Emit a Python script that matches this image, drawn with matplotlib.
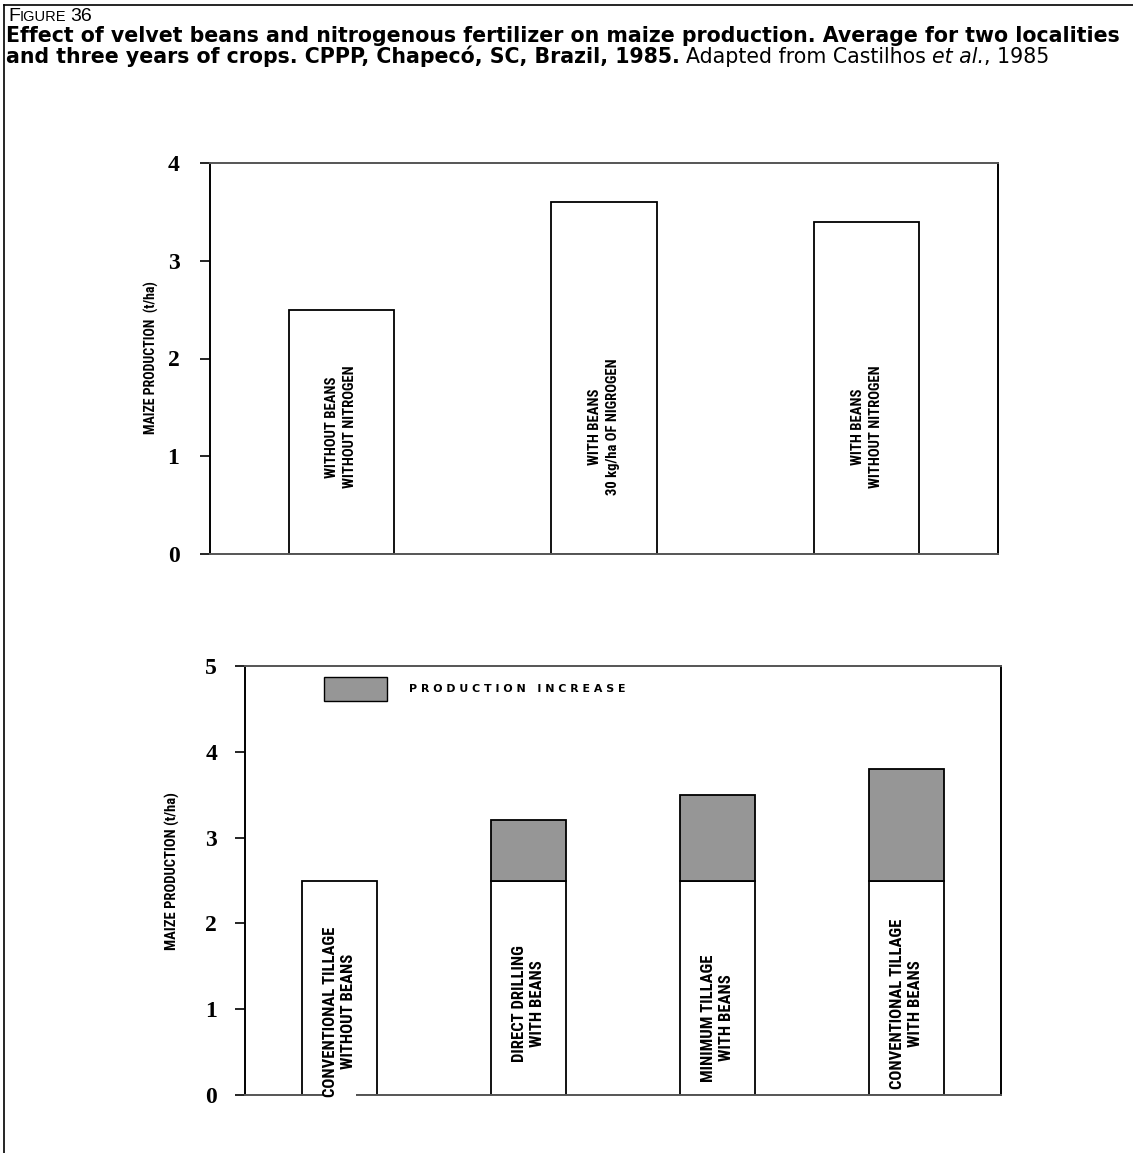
import matplotlib
matplotlib.use("Agg")
import matplotlib.pyplot as plt
from matplotlib.lines import Line2D
from matplotlib.patches import Rectangle
from matplotlib import font_manager
from matplotlib.font_manager import FontProperties

# data
top_labels = ["WITHOUT BEANS\nWITHOUT NITROGEN",
              "WITH BEANS\n30 kg/ha OF NIGROGEN",
              "WITH BEANS\nWITHOUT NITROGEN"]
top_values = [2.5, 3.6, 3.4]

bottom_labels = ["CONVENTIONAL TILLAGE\nWITHOUT BEANS",
                 "DIRECT DRILLING\nWITH BEANS",
                 "MINIMUM TILLAGE\nWITH BEANS",
                 "CONVENTIONAL TILLAGE\nWITH BEANS"]
bottom_base = [2.5, 2.5, 2.5, 2.5]
bottom_increase = [0.0, 0.7, 1.0, 1.3]
legend_label = "P R O D U C T I O N   I N C R E A S E"

GREY = "#969696"
SERIF = "Liberation Serif"


def narrow_bold():
    """Look for an installed condensed/narrow bold sans, else fall back to Liberation Sans."""
    wanted = ["Liberation Sans Narrow", "Arial Narrow", "Roboto Condensed",
              "Open Sans Condensed", "DejaVu Sans Condensed"]
    hits = []
    for f in font_manager.fontManager.ttflist:
        w = f.weight if isinstance(f.weight, int) else (700 if "bold" in str(f.weight) else 400)
        narrow = ("Narrow" in f.name or "Condensed" in f.name
                  or "ondensed" in str(f.stretch) or "Condensed" in f.fname)
        if narrow and w >= 600 and f.style == "normal":
            rank = next((i for i, n in enumerate(wanted) if n.split()[0] in f.name), 99)
            hits.append((rank, f.fname))
    if hits:
        hits.sort()
        return FontProperties(fname=hits[0][1]), True
    return FontProperties(family="Liberation Sans", weight="bold"), False


NARROW, is_narrow = narrow_bold()
scale = 1.0 if is_narrow else 0.85
top_size = 10.5 * scale
bot_size = 12 * scale

W, H = 1133, 1153
fig = plt.figure(figsize=(W / 100, H / 100), dpi=100)
renderer = fig.canvas.get_renderer()


def fx(px):
    return px / W


def fy(py):
    return 1 - py / H


def right_px(t):
    return t.get_window_extent(renderer).x1


# page frame (top and left only)
fig.add_artist(Line2D([fx(4), 1], [fy(5), fy(5)], color="black", lw=1.2))
fig.add_artist(Line2D([fx(4), fx(4)], [fy(5), 0], color="black", lw=1.2))

# caption: small-caps "FIGURE 36"
t = fig.text(fx(8), fy(21), "F", fontsize=14, family="Liberation Sans", va="baseline")
t = fig.text(right_px(t) / W, fy(21), "IGURE", fontsize=10.5, family="Liberation Sans",
             va="baseline")
fig.text(right_px(t) / W + fx(4), fy(21), "36", fontsize=14, family="Liberation Sans",
         va="baseline")

line1 = "Effect of velvet beans and nitrogenous fertilizer on maize production. Average for two localities"
line2 = "and three years of crops. CPPP, Chapecó, SC, Brazil, 1985."
t1 = fig.text(fx(6), fy(42), line1, fontsize=14, family="DejaVu Sans", weight="bold",
              va="baseline")
size = 14 * (1124 - 6) / (right_px(t1) - 6)
t1.set_fontsize(size)
t = fig.text(fx(6), fy(63), line2, fontsize=size, family="DejaVu Sans", weight="bold",
             va="baseline")
t = fig.text((right_px(t) + 6) / W, fy(63), "Adapted from Castilhos ", fontsize=size,
             family="DejaVu Sans", va="baseline")
t = fig.text(right_px(t) / W, fy(63), "et al.", fontsize=size, family="DejaVu Sans",
             style="italic", va="baseline")
fig.text(right_px(t) / W, fy(63), ", 1985", fontsize=size, family="DejaVu Sans",
         va="baseline")


def style_axes(ax, ymax, pad):
    ax.set_ylim(0, ymax)
    ax.set_yticks(range(ymax + 1))
    ax.set_xticks([])
    ax.tick_params(axis="y", direction="out", length=7, width=1.2, pad=pad)
    for lab in ax.get_yticklabels():
        lab.set_fontfamily(SERIF)
        lab.set_fontweight("bold")
        lab.set_fontsize(17)
    for side in ["left", "right"]:
        ax.spines[side].set_color("black")
        ax.spines[side].set_linewidth(1.4)
    for side in ["top", "bottom"]:
        ax.spines[side].set_color("#555555")
        ax.spines[side].set_linewidth(1.4)


# top chart
ax1 = fig.add_axes([fx(210), fy(554), fx(998) - fx(210), fy(163) - fy(554)])
x1 = list(range(len(top_values)))
ax1.bar(x1, top_values, width=0.4, color="white", edgecolor="black", linewidth=1.3)
ax1.set_xlim(-0.5, len(top_values) - 0.5)
style_axes(ax1, 4, 15)
for xi, lab in zip(x1, top_labels):
    ax1.text(xi, 1.3, lab, rotation=90, ha="center", va="center", multialignment="center",
             fontproperties=NARROW, fontsize=top_size, linespacing=1.35)
fig.text(fx(151), fy(358), "MAIZE PRODUCTION  (t/ha)", rotation=90, ha="center", va="center",
         fontproperties=NARROW, fontsize=10 * scale)

# bottom chart
ax2 = fig.add_axes([fx(245), fy(1095), fx(1001) - fx(245), fy(666) - fy(1095)])
x2 = list(range(len(bottom_base)))
ax2.bar(x2, bottom_base, width=0.4, color="white", edgecolor="black", linewidth=1.3)
inc_x = [xi for xi, v in zip(x2, bottom_increase) if v > 0]
inc_v = [v for v in bottom_increase if v > 0]
inc_b = [b for b, v in zip(bottom_base, bottom_increase) if v > 0]
ax2.bar(inc_x, inc_v, bottom=inc_b, width=0.4, color=GREY, edgecolor="black", linewidth=1.3)
ax2.set_xlim(-0.5, len(bottom_base) - 0.5)
style_axes(ax2, 5, 13)
label_y = [0.97, 1.07, 0.9, 1.06]
for xi, lab, ly in zip(x2, bottom_labels, label_y):
    t = ax2.text(xi, ly, lab, rotation=90, ha="center", va="center", multialignment="center",
                 fontproperties=NARROW, fontsize=bot_size, linespacing=1.2, zorder=5,
                 clip_on=False)
    if xi == 0:
        t.set_bbox(dict(facecolor="white", edgecolor="none", pad=0.3))
fig.text(fx(172), fy(871), "MAIZE PRODUCTION (t/ha)", rotation=90, ha="center", va="center",
         fontproperties=NARROW, fontsize=10.5 * scale)

# legend key drawn in axes fraction
lx0, lx1 = (324 - 245) / 756, (387 - 245) / 756
ly0, ly1 = (1095 - 701) / 429, (1095 - 677) / 429
ax2.add_patch(Rectangle((lx0, ly0), lx1 - lx0, ly1 - ly0, transform=ax2.transAxes,
                        facecolor=GREY, edgecolor="black", linewidth=1.0))
ax2.text((409 - 245) / 756, (ly0 + ly1) / 2, legend_label, transform=ax2.transAxes,
         ha="left", va="center", fontsize=7.9, family="DejaVu Sans", weight="bold")

fig.savefig("out.png", dpi=100)
